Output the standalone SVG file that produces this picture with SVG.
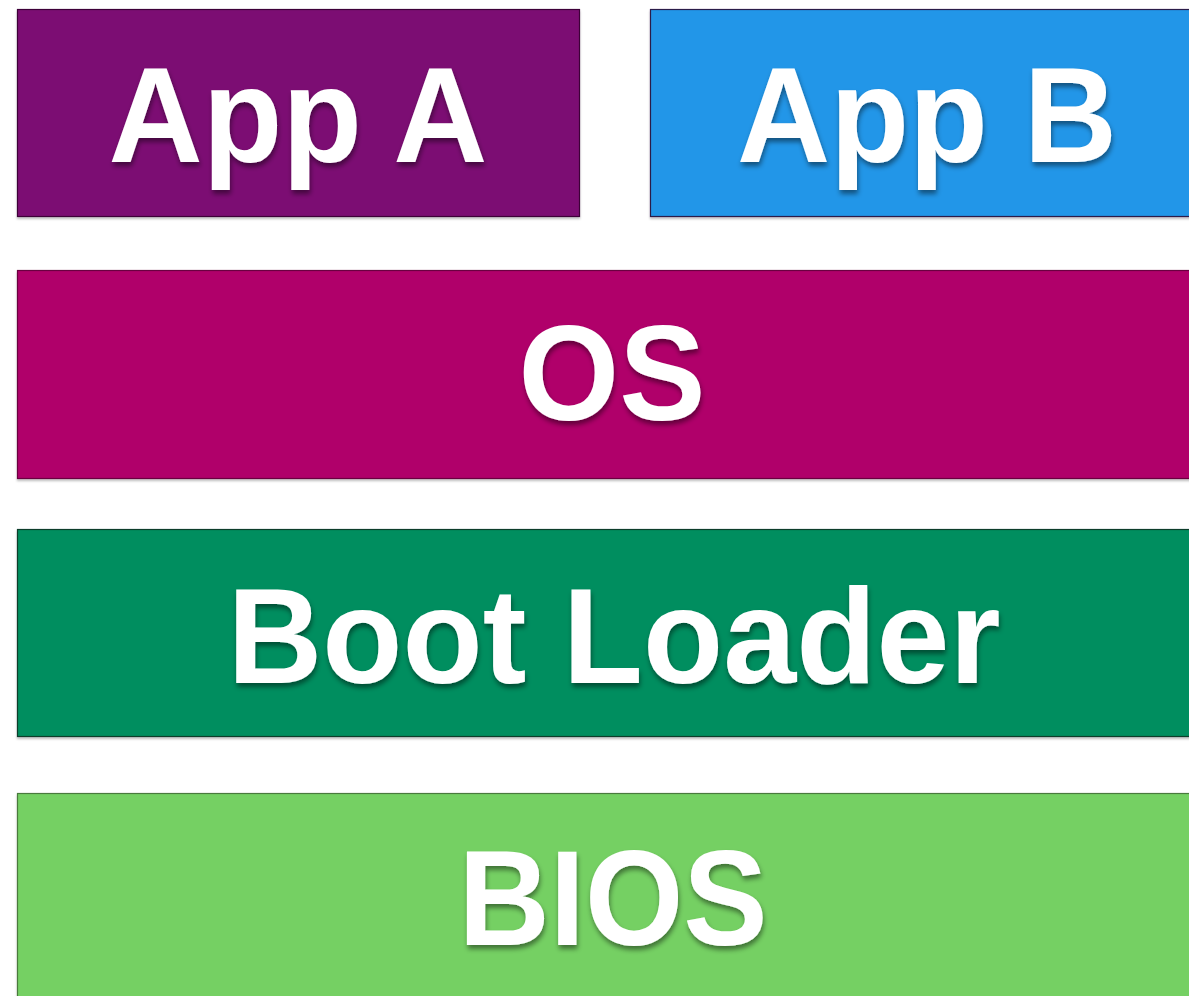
<svg xmlns="http://www.w3.org/2000/svg" width="1189" height="996" viewBox="0 0 1189 996">
<defs>
<filter id="ts" x="-10%" y="-20%" width="120%" height="150%">
<feDropShadow dx="1" dy="4" stdDeviation="2.5" flood-color="#000" flood-opacity="0.45"/>
</filter>
<filter id="bs" x="-5%" y="-5%" width="110%" height="110%">
<feDropShadow dx="0" dy="2" stdDeviation="0.8" flood-color="#000" flood-opacity="0.25"/>
</filter>
</defs>
<style>
text{font-family:"Liberation Sans",Arial,sans-serif;font-weight:bold;font-size:136px;fill:#fff;text-anchor:middle;filter:url(#ts)}
rect{stroke-width:1.2;filter:url(#bs)}
</style>
<rect width="1189" height="996" fill="#fff" style="filter:none;stroke:none"/>
<g id="app-a">
<rect x="17.5" y="9.5" width="562" height="207" fill="#7B0A73" stroke="#3d0539"/>
<text x="298" y="162" textLength="379" lengthAdjust="spacingAndGlyphs">App A</text>
</g>
<g id="app-b">
<rect x="650.5" y="9.5" width="560" height="207" fill="#2196E8" stroke="#2a1b4a"/>
<text x="927" y="162" textLength="380" lengthAdjust="spacingAndGlyphs">App B</text>
</g>
<g id="os">
<rect x="17.5" y="270.5" width="1195" height="208" fill="#B0006A" stroke="#6a0040"/>
<text x="612" y="420" textLength="187" lengthAdjust="spacingAndGlyphs">OS</text>
</g>
<g id="boot-loader">
<rect x="17.5" y="529.5" width="1195" height="207" fill="#008E5E" stroke="#0b3d2a"/>
<text x="614" y="683" textLength="773" lengthAdjust="spacingAndGlyphs">Boot Loader</text>
</g>
<g id="bios">
<rect x="17.5" y="793.5" width="1195" height="215" fill="#74D063" stroke="#4a7a3e"/>
<text x="613" y="945" textLength="309" lengthAdjust="spacingAndGlyphs">BIOS</text>
</g>
<g id="connectors"/>
</svg>
